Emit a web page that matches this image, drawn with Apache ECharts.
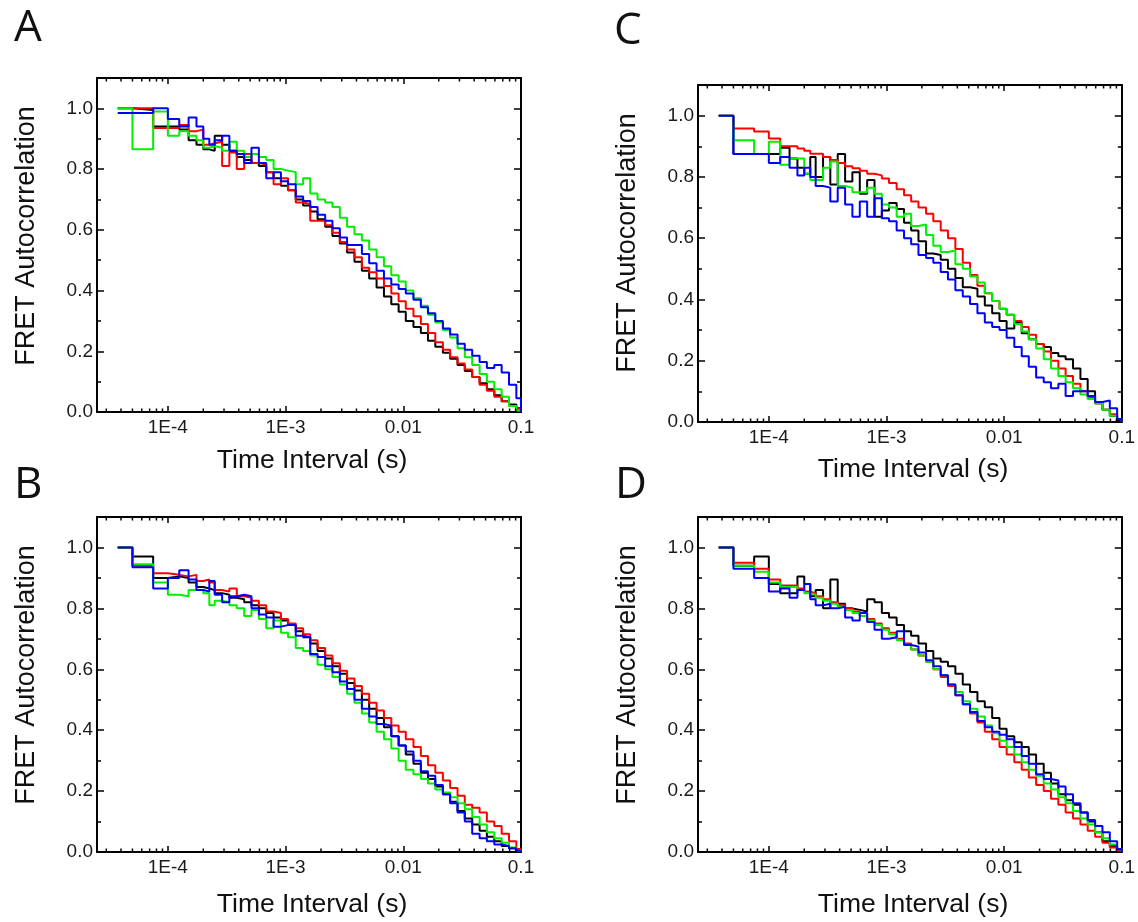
<!DOCTYPE html>
<html>
<head>
<meta charset="utf-8">
<style>
  html, body { margin: 0; padding: 0; background: #ffffff; }
  #chart { width: 1138px; height: 922px; }
</style>
<script src="https://cdn.jsdelivr.net/npm/echarts@6/dist/echarts.min.js"></script>
</head>
<body>
<div id="chart"></div>
<script>
// ---- Data ----
const lagTimes = [3.75e-5, 5e-5, 7.5e-5, 1e-4, 1.25e-4, 1.5e-4, 1.75e-4, 2e-4, 2.25e-4, 2.5e-4,
  2.89e-4, 3.33e-4, 3.85e-4, 4.45e-4, 5.13e-4, 5.93e-4, 6.85e-4, 7.91e-4, 9.13e-4,
  1.05e-3, 1.22e-3, 1.41e-3, 1.62e-3, 1.87e-3, 2.17e-3, 2.5e-3, 2.89e-3, 3.33e-3, 3.85e-3,
  4.45e-3, 5.13e-3, 5.93e-3, 6.85e-3, 7.91e-3, 9.13e-3,
  1.05e-2, 1.22e-2, 1.41e-2, 1.62e-2, 1.87e-2, 2.17e-2, 2.5e-2, 2.89e-2, 3.33e-2, 3.85e-2,
  4.45e-2, 5.13e-2, 5.93e-2, 6.85e-2, 7.91e-2, 9.13e-2, 0.1];

// Panel A
const blackA = [1.0, 0.995, 0.94, 0.94, 0.93, 0.895, 0.88, 0.865, 0.86, 0.91,
  0.88, 0.86, 0.84, 0.83, 0.82, 0.81, 0.79, 0.77, 0.745, 0.73,
  0.70, 0.68, 0.66, 0.635, 0.61, 0.58, 0.555, 0.525, 0.495, 0.465,
  0.44, 0.41, 0.38, 0.355, 0.33, 0.30, 0.28, 0.26, 0.235, 0.215,
  0.195, 0.175, 0.155, 0.135, 0.115, 0.095, 0.075, 0.055, 0.035, 0.025,
  0.012, 0];
const redA = [1.0, 1.0, 0.935, 0.935, 0.945, 0.925, 0.93, 0.88, 0.885, 0.89,
  0.81, 0.855, 0.80, 0.85, 0.82, 0.815, 0.79, 0.75, 0.77, 0.73,
  0.69, 0.685, 0.63, 0.63, 0.615, 0.59, 0.56, 0.535, 0.51, 0.475,
  0.46, 0.44, 0.415, 0.39, 0.365, 0.34, 0.315, 0.29, 0.26, 0.23,
  0.205, 0.18, 0.16, 0.14, 0.115, 0.09, 0.07, 0.05, 0.035, 0.02,
  0.01, 0];
const greenA = [1.0, 0.865, 0.99, 0.91, 0.925, 0.91, 0.895, 0.87, 0.875, 0.87,
  0.86, 0.89, 0.86, 0.84, 0.85, 0.84, 0.83, 0.80, 0.795, 0.79,
  0.75, 0.77, 0.72, 0.70, 0.69, 0.675, 0.64, 0.61, 0.585, 0.565,
  0.535, 0.51, 0.48, 0.45, 0.43, 0.40, 0.375, 0.35, 0.32, 0.295,
  0.27, 0.245, 0.21, 0.18, 0.155, 0.125, 0.10, 0.075, 0.05, 0.02,
  0.005, 0];
const blueA = [0.985, 0.985, 1.0, 0.965, 0.94, 0.97, 0.94, 0.90, 0.88, 0.895,
  0.91, 0.86, 0.85, 0.82, 0.87, 0.82, 0.77, 0.79, 0.76, 0.75,
  0.71, 0.695, 0.675, 0.65, 0.63, 0.605, 0.575, 0.55, 0.55, 0.52,
  0.49, 0.465, 0.44, 0.42, 0.405, 0.39, 0.37, 0.345, 0.325, 0.30,
  0.275, 0.255, 0.225, 0.205, 0.185, 0.165, 0.145, 0.155, 0.13, 0.09,
  0.045, 0];

// Panel B
const blackB = [1.0, 0.97, 0.90, 0.905, 0.90, 0.885, 0.87, 0.865, 0.86, 0.85,
  0.845, 0.835, 0.83, 0.82, 0.81, 0.80, 0.785, 0.77, 0.76, 0.745,
  0.725, 0.705, 0.685, 0.66, 0.635, 0.61, 0.585, 0.555, 0.53, 0.50,
  0.47, 0.44, 0.41, 0.38, 0.35, 0.32, 0.29, 0.26, 0.24, 0.215,
  0.19, 0.165, 0.135, 0.11, 0.09, 0.07, 0.05, 0.035, 0.02, 0.012,
  0.005, 0];
const redB = [1.0, 0.94, 0.915, 0.91, 0.905, 0.91, 0.89, 0.895, 0.885, 0.86,
  0.855, 0.865, 0.84, 0.835, 0.825, 0.81, 0.79, 0.785, 0.765, 0.75,
  0.735, 0.715, 0.695, 0.67, 0.645, 0.62, 0.595, 0.57, 0.545, 0.52,
  0.49, 0.465, 0.44, 0.415, 0.395, 0.37, 0.345, 0.315, 0.285, 0.26,
  0.235, 0.21, 0.185, 0.155, 0.145, 0.13, 0.10, 0.085, 0.06, 0.035,
  0.01, 0];
const greenB = [1.0, 0.945, 0.885, 0.845, 0.84, 0.86, 0.86, 0.85, 0.81, 0.825,
  0.82, 0.81, 0.80, 0.775, 0.795, 0.765, 0.735, 0.76, 0.72, 0.705,
  0.67, 0.66, 0.645, 0.615, 0.60, 0.575, 0.55, 0.52, 0.49, 0.455,
  0.425, 0.395, 0.37, 0.34, 0.30, 0.27, 0.255, 0.24, 0.225, 0.205,
  0.195, 0.18, 0.16, 0.14, 0.115, 0.09, 0.065, 0.045, 0.03, 0.015,
  0.005, 0];
const blueB = [1.0, 0.935, 0.865, 0.90, 0.925, 0.895, 0.86, 0.855, 0.89, 0.845,
  0.82, 0.84, 0.845, 0.84, 0.80, 0.78, 0.77, 0.74, 0.745, 0.745,
  0.71, 0.705, 0.65, 0.64, 0.61, 0.59, 0.56, 0.535, 0.50, 0.47,
  0.445, 0.42, 0.415, 0.38, 0.35, 0.33, 0.30, 0.265, 0.25, 0.22,
  0.19, 0.16, 0.13, 0.10, 0.06, 0.045, 0.035, 0.025, 0.02, 0.012,
  0.005, 0];

// Panel C
const blackC = [1.0, 0.875, 0.875, 0.875, 0.895, 0.86, 0.83, 0.81, 0.865, 0.80,
  0.865, 0.775, 0.875, 0.785, 0.815, 0.745, 0.79, 0.67, 0.69, 0.715,
  0.695, 0.65, 0.625, 0.59, 0.55, 0.545, 0.53, 0.50, 0.47, 0.44,
  0.435, 0.41, 0.38, 0.355, 0.33, 0.305, 0.325, 0.29, 0.27, 0.255,
  0.245, 0.225, 0.215, 0.205, 0.175, 0.14, 0.10, 0.065, 0.04, 0.02,
  0.005, 0];
const redC = [1.0, 0.958, 0.948, 0.925, 0.90, 0.90, 0.893, 0.885, 0.876, 0.876,
  0.865, 0.855, 0.845, 0.835, 0.828, 0.82, 0.81, 0.805, 0.795, 0.78,
  0.76, 0.74, 0.72, 0.70, 0.68, 0.655, 0.625, 0.60, 0.565, 0.52,
  0.48, 0.445, 0.42, 0.395, 0.37, 0.35, 0.33, 0.31, 0.285, 0.255,
  0.23, 0.20, 0.175, 0.15, 0.125, 0.10, 0.08, 0.06, 0.04, 0.025,
  0.01, 0];
const greenC = [1.0, 0.92, 0.875, 0.915, 0.84, 0.86, 0.86, 0.81, 0.79, 0.79,
  0.83, 0.85, 0.77, 0.765, 0.75, 0.75, 0.765, 0.745, 0.71, 0.70,
  0.67, 0.68, 0.64, 0.645, 0.61, 0.575, 0.555, 0.56, 0.515, 0.50,
  0.475, 0.455, 0.42, 0.395, 0.37, 0.35, 0.32, 0.295, 0.27, 0.24,
  0.205, 0.175, 0.15, 0.13, 0.11, 0.09, 0.075, 0.06, 0.04, 0.02,
  0.01, 0];
const blueC = [1.0, 0.875, 0.875, 0.845, 0.865, 0.83, 0.805, 0.83, 0.80, 0.77,
  0.765, 0.72, 0.765, 0.71, 0.67, 0.72, 0.67, 0.73, 0.665, 0.655,
  0.625, 0.60, 0.58, 0.545, 0.535, 0.52, 0.49, 0.465, 0.43, 0.41,
  0.385, 0.355, 0.325, 0.31, 0.30, 0.275, 0.245, 0.215, 0.18, 0.145,
  0.13, 0.11, 0.125, 0.085, 0.10, 0.10, 0.085, 0.065, 0.07, 0.045,
  0.01, 0];

// Panel D
const blackD = [1.0, 0.94, 0.97, 0.88, 0.85, 0.85, 0.905, 0.88, 0.84, 0.86,
  0.80, 0.895, 0.815, 0.80, 0.795, 0.79, 0.83, 0.82, 0.785, 0.77,
  0.745, 0.725, 0.71, 0.685, 0.66, 0.635, 0.625, 0.61, 0.585, 0.55,
  0.525, 0.495, 0.475, 0.44, 0.405, 0.38, 0.36, 0.345, 0.32, 0.29,
  0.26, 0.225, 0.19, 0.17, 0.155, 0.13, 0.10, 0.065, 0.035, 0.02,
  0.008, 0];
const redD = [1.0, 0.95, 0.93, 0.895, 0.875, 0.875, 0.865, 0.855, 0.85, 0.84,
  0.83, 0.82, 0.81, 0.80, 0.79, 0.775, 0.765, 0.75, 0.735, 0.72,
  0.70, 0.685, 0.665, 0.645, 0.625, 0.60, 0.575, 0.545, 0.515, 0.485,
  0.455, 0.425, 0.395, 0.37, 0.345, 0.32, 0.295, 0.27, 0.245, 0.22,
  0.20, 0.175, 0.155, 0.13, 0.11, 0.09, 0.07, 0.05, 0.03, 0.015,
  0.005, 0];
const greenD = [1.0, 0.94, 0.92, 0.885, 0.87, 0.87, 0.86, 0.85, 0.845, 0.835,
  0.825, 0.815, 0.805, 0.795, 0.785, 0.775, 0.76, 0.745, 0.73, 0.715,
  0.695, 0.68, 0.665, 0.645, 0.625, 0.60, 0.58, 0.55, 0.525, 0.495,
  0.47, 0.445, 0.415, 0.39, 0.365, 0.345, 0.32, 0.295, 0.27, 0.25,
  0.225, 0.205, 0.18, 0.16, 0.135, 0.11, 0.09, 0.065, 0.045, 0.025,
  0.01, 0];
const blueD = [1.0, 0.93, 0.90, 0.855, 0.865, 0.835, 0.86, 0.88, 0.83, 0.81,
  0.815, 0.80, 0.805, 0.77, 0.76, 0.785, 0.755, 0.73, 0.70, 0.705,
  0.725, 0.68, 0.675, 0.655, 0.63, 0.61, 0.58, 0.55, 0.515, 0.485,
  0.46, 0.43, 0.41, 0.395, 0.385, 0.37, 0.345, 0.315, 0.29, 0.255,
  0.24, 0.235, 0.215, 0.19, 0.16, 0.13, 0.105, 0.085, 0.065, 0.035,
  0.01, 0];

// Axis ticks / labels
const xTickValues = [1e-4, 1e-3, 1e-2, 1e-1];
const xTickLabels = ['1E-4', '1E-3', '0.01', '0.1'];
const xMinorTicks = [3e-5, 4e-5, 5e-5, 6e-5, 7e-5, 8e-5, 9e-5,
  2e-4, 3e-4, 4e-4, 5e-4, 6e-4, 7e-4, 8e-4, 9e-4,
  2e-3, 3e-3, 4e-3, 5e-3, 6e-3, 7e-3, 8e-3, 9e-3,
  2e-2, 3e-2, 4e-2, 5e-2, 6e-2, 7e-2, 8e-2, 9e-2];
const panelLetters = ['A', 'B', 'C', 'D'];
const xTitle = 'Time Interval (s)';
const yTitle = 'FRET Autocorrelation';
const seriesColors = ['#000000', '#ff0000', '#00ee00', '#0000ff'];
const panelData = [
  [blackA, redA, greenA, blueA],
  [blackB, redB, greenB, blueB],
  [blackC, redC, greenC, blueC],
  [blackD, redD, greenD, blueD]
];

// ---- Layout ----
const grids = [
  { left: 97, top: 78, width: 424, height: 334 },
  { left: 97, top: 517, width: 424, height: 335 },
  { left: 698, top: 85, width: 424, height: 337 },
  { left: 698, top: 517, width: 424, height: 335 }
];
const letterPos = [[14, 28], [14, 485], [614, 31], [615, 485]];
const yTitlePos = [[27, 236], [27, 675], [628, 243], [628, 675]];
const xTitlePos = [[312, 461], [312, 905], [913, 470], [913, 905]];

const AX = '#000';
const LABEL_FONT = 'Liberation Sans, Arial, sans-serif';

function xLabelFormatter(v) {
  const lg = Math.log10(v);
  const e = Math.round(lg);
  if (Math.abs(lg - e) > 1e-6) return '';
  for (let i = 0; i < xTickValues.length; i++) {
    if (Math.round(Math.log10(xTickValues[i])) === e) return xTickLabels[i];
  }
  return '';
}

const xAxes = [], yAxes = [], series = [], graphics = [];
grids.forEach((g, i) => {
  const mkX = (pos, showLabel) => ({
    type: 'log', logBase: 10, gridIndex: i, min: 2.5e-5, max: 0.1, position: pos,
    axisLine: { show: true, onZero: false, lineStyle: { color: AX, width: 2 } },
    axisTick: { show: true, inside: true, length: 6, lineStyle: { color: AX, width: 1.5 } },
    splitLine: { show: false }, minorTick: { show: false }, minorSplitLine: { show: false },
    axisLabel: showLabel ? { show: true, formatter: xLabelFormatter, fontSize: 19, color: '#1a1a1a',
      fontFamily: LABEL_FONT, margin: 6, showMinLabel: false, hideOverlap: false } : { show: false }
  });
  xAxes.push(mkX('bottom', true));
  xAxes.push(mkX('top', false));
  const mkY = (pos, showLabel) => ({
    type: 'value', gridIndex: i, min: 0, max: 1.1, interval: 0.2, position: pos,
    axisLine: { show: true, onZero: false, lineStyle: { color: AX, width: 2 } },
    axisTick: { show: true, inside: true, length: 7, lineStyle: { color: AX, width: 1.5 } },
    minorTick: { show: true, splitNumber: 2, length: 4, lineStyle: { color: AX, width: 1.5 } },
    splitLine: { show: false },
    axisLabel: showLabel ? { show: true, fontSize: 19, color: '#1a1a1a', fontFamily: LABEL_FONT, margin: 4,
      showMaxLabel: false, formatter: v => v.toFixed(1) } : { show: false }
  });
  yAxes.push(mkY('left', true));
  yAxes.push(mkY('right', false));

  panelData[i].forEach((vals, k) => {
    const data = [];
    for (let j = 0; j < lagTimes.length; j++) {
      if (vals[j] !== null && vals[j] !== undefined) data.push([lagTimes[j], vals[j]]);
    }
    series.push({
      type: 'line', xAxisIndex: 2 * i, yAxisIndex: 2 * i, step: 'end',
      data: data, showSymbol: false, symbol: 'none', silent: true,
      lineStyle: { color: seriesColors[k], width: 2 }, itemStyle: { color: seriesColors[k] },
      z: 2 + k, animation: false
    });
  });

  series.push({
    type: 'custom', xAxisIndex: 2 * i, yAxisIndex: 2 * i, silent: true, clip: false,
    data: xMinorTicks.map(v => [v, 0]), encode: { x: 0, y: 1 }, z: 10,
    renderItem: (params, api) => {
      const v = api.value(0);
      const b = api.coord([v, 0]);
      const t = api.coord([v, 1.1]);
      return {
        type: 'group', children: [
          { type: 'line', shape: { x1: b[0], y1: b[1], x2: b[0], y2: b[1] - 3.5 }, style: { stroke: AX, lineWidth: 1.5 } },
          { type: 'line', shape: { x1: t[0], y1: t[1], x2: t[0], y2: t[1] + 3.5 }, style: { stroke: AX, lineWidth: 1.5 } }
        ]
      };
    },
    animation: false
  });

  graphics.push({
    type: 'text', x: letterPos[i][0], y: letterPos[i][1],
    style: { text: panelLetters[i], fontSize: 44, fontFamily: 'Open Sans, sans-serif', fill: '#111',
      align: 'left', verticalAlign: 'middle' }
  });
  graphics.push({
    type: 'text', x: yTitlePos[i][0], y: yTitlePos[i][1], rotation: Math.PI / 2,
    style: { text: yTitle, fontSize: 27, fontFamily: LABEL_FONT, fill: '#111',
      align: 'center', verticalAlign: 'middle' }
  });
  graphics.push({
    type: 'text', x: xTitlePos[i][0], y: xTitlePos[i][1],
    style: { text: xTitle, fontSize: 26.5, fontFamily: LABEL_FONT, fill: '#111',
      align: 'center', verticalAlign: 'middle' }
  });
});

const chart = echarts.init(document.getElementById('chart'), null, { renderer: 'canvas' });
chart.setOption({
  backgroundColor: '#ffffff',
  animation: false,
  grid: grids,
  xAxis: xAxes,
  yAxis: yAxes,
  series: series,
  graphic: graphics
});
</script>
</body>
</html>
